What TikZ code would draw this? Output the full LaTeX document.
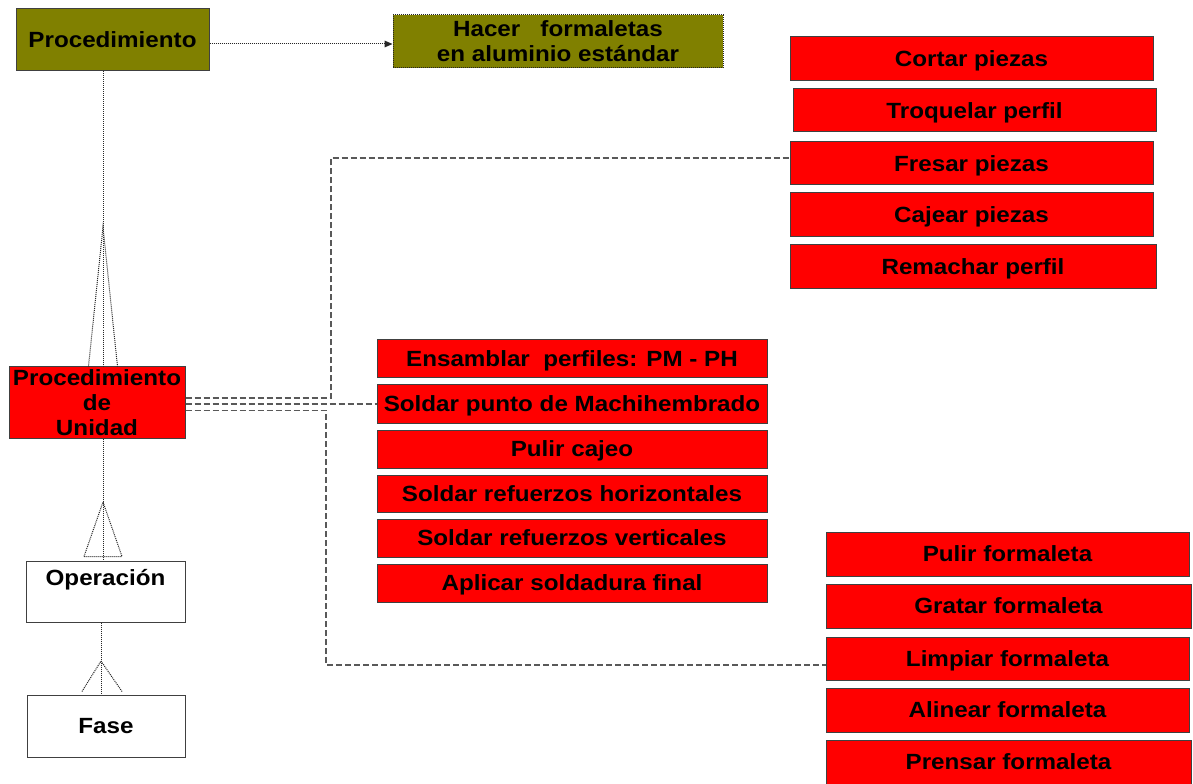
\documentclass[tikz,border=0pt]{standalone}
\usepackage{fontspec}
\setmainfont{Liberation Sans}[FakeStretch=1.1]
\usetikzlibrary{arrows.meta,calc}
\definecolor{olivefill}{HTML}{808000}
\definecolor{redfill}{HTML}{FF0000}
\begin{document}
\begin{tikzpicture}[x=0.75pt,y=-0.75pt,
  txt/.style={font=\fontsize{16.5}{18.75}\selectfont\bfseries, text=black},
  sz/.style 2 args={minimum width=#1*0.75pt, minimum height=#2*0.75pt},
  box/.style={txt, draw=black!75, line width=0.75pt, inner sep=0pt, align=center, text depth=0pt},
  redbox/.style={box, fill=redfill},
  olivebox/.style={box, fill=olivefill},
  whitebox/.style={box, fill=white},
  dotline/.style={line width=0.75pt, draw=black!85, dash pattern=on 0.75pt off 0.75pt},
  dashline/.style={line width=1pt, draw=black!65, dash pattern=on 4.5pt off 2.25pt}]

\fill[white] (0,0) rectangle (1193,784);
\useasboundingbox (0,0) rectangle (1193,784);

% left column: hierarchy of levels
\node[olivebox, sz={193}{62}] (proc) at (112.5,40) {Procedimiento};
\node[olivebox, sz={330}{53}, dotline] (hacer) at (558,41.5) {Hacer\ \ \ formaletas\\en aluminio estándar};
\node[redbox, sz={176}{71}] (pu) at (97,402.5) {Procedimiento\\de\\Unidad};
\node[whitebox, sz={159}{61},
  label={[txt, yshift=8.6pt]center:Operación}] (op) at (105.5,591.5) {};
\node[whitebox, sz={158}{62}] (fase) at (106,726) {Fase};

% top right group
\node[redbox, sz={363}{44}] (cortar) at (971.5,59) {Cortar piezas};
\node[redbox, sz={363}{43}] (troq) at (974.5,110.5) {Troquelar perfil};
\node[redbox, sz={363}{43}] (fresar) at (971.5,163.5) {Fresar piezas};
\node[redbox, sz={363}{44}] (cajear) at (971.5,215) {Cajear piezas};
\node[redbox, sz={366}{44}] (remachar) at (973,267) {Remachar perfil};

% middle group
\node[redbox, sz={390}{38}] (ens) at (572,359) {Ensamblar\ \ perfiles: PM - PH};
\node[redbox, sz={390}{38}] (soldar) at (572,404) {Soldar punto de Machihembrado};
\node[redbox, sz={390}{38}] (pulirc) at (572,449) {Pulir cajeo};
\node[redbox, sz={390}{37}] (horiz) at (572,493.5) {Soldar refuerzos horizontales};
\node[redbox, sz={390}{38}] (vert) at (572,538) {Soldar refuerzos verticales};
\node[redbox, sz={390}{38}] (aplicar) at (572,583) {Aplicar soldadura final};

% bottom right group
\node[redbox, sz={363}{44}] (pulirf) at (1007.5,554) {Pulir formaleta};
\node[redbox, sz={365}{44}] (gratar) at (1008.5,606) {Gratar formaleta};
\node[redbox, sz={363}{43}] (limpiar) at (1007.5,658.5) {Limpiar formaleta};
\node[redbox, sz={363}{44}] (alinear) at (1007.5,710) {Alinear formaleta};
\node[redbox, sz={365}{44}] (prensar) at (1008.5,762) {Prensar formaleta};

% procedure -> product
\draw[dotline, -{Triangle[length=6pt,width=5pt]}]
  ($(proc.east)+(0,4)$) -- ($(hacer.west)+(0,2.5)$);

% one-to-many links (crow's feet)
\coordinate (a1) at (103,227);
\draw[dotline] (proc.south -| a1) -- (pu.north -| a1);
\draw[dotline] ($(pu.north -| a1)+(-14.5,0)$) -- (a1) -- ($(pu.north -| a1)+(14.5,0)$);

\coordinate (a2) at (103,502);
\draw[dotline] (pu.south -| a2) -- (op.north -| a2);
\draw[dotline] ($(op.north -| a2)+(-19,-4)$) -- (a2) -- ($(op.north -| a2)+(19,-4)$) -- cycle;

\coordinate (a3) at (101,661);
\draw[dotline] (op.south -| a3) -- (fase.north -| a3);
\draw[dotline] ($(fase.north -| a3)+(-19,-3)$) -- (a3) -- ($(fase.north -| a3)+(21,-3)$);

% unit procedure -> its three groups
\coordinate (j1) at (331,0);
\coordinate (j3) at (326,0);
\draw[dashline] ($(pu.east)+(0,-4.5)$) -| ($(j1 |- fresar.west)+(0,-5.5)$) -- ($(fresar.west)+(0,-5.5)$);
\draw[dashline] (pu.east |- soldar.west) -- (soldar.west);
\draw[dashline] ($(pu.east)+(0,8)$) -| ($(j3 |- limpiar.west)+(0,6.5)$) -- ($(limpiar.west)+(0,6.5)$);
\end{tikzpicture}
\end{document}
